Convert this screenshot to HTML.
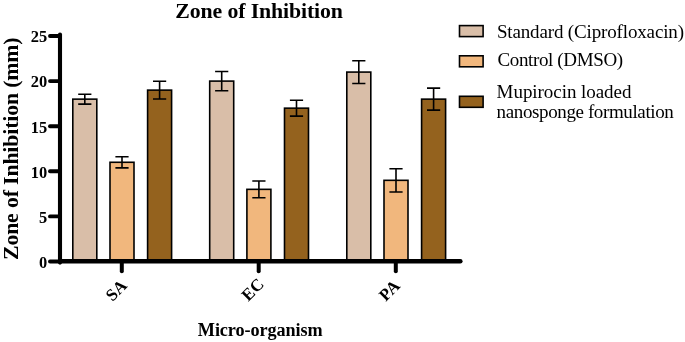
<!DOCTYPE html>
<html><head><meta charset="utf-8"><style>
html,body{margin:0;padding:0;background:#fff;}
svg{display:block;}
svg{will-change:transform;}
text{font-family:"Liberation Serif",serif;fill:#000;}
.tk{font-weight:bold;font-size:17.0px;}
.ytk{font-weight:bold;font-size:17.5px;}
.ttl{font-weight:bold;font-size:21.8px;}
.xl{font-weight:bold;font-size:18.2px;}
.lg{font-size:19.0px;}
</style></head><body>
<svg width="685" height="342" viewBox="0 0 685 342">
<rect width="685" height="342" fill="#fff"/>
<rect x="72.80" y="99.14" width="24.00" height="162.36" fill="#D9BEA8" stroke="#000" stroke-width="1.6"/>
<rect x="110.00" y="162.28" width="24.00" height="99.22" fill="#F1B77D" stroke="#000" stroke-width="1.6"/>
<rect x="147.60" y="90.12" width="24.00" height="171.38" fill="#94621E" stroke="#000" stroke-width="1.6"/>
<rect x="209.70" y="81.10" width="24.00" height="180.40" fill="#D9BEA8" stroke="#000" stroke-width="1.6"/>
<rect x="246.90" y="189.34" width="24.00" height="72.16" fill="#F1B77D" stroke="#000" stroke-width="1.6"/>
<rect x="284.50" y="108.16" width="24.00" height="153.34" fill="#94621E" stroke="#000" stroke-width="1.6"/>
<rect x="346.80" y="72.08" width="24.00" height="189.42" fill="#D9BEA8" stroke="#000" stroke-width="1.6"/>
<rect x="384.00" y="180.32" width="24.00" height="81.18" fill="#F1B77D" stroke="#000" stroke-width="1.6"/>
<rect x="421.60" y="99.14" width="24.00" height="162.36" fill="#94621E" stroke="#000" stroke-width="1.6"/>
<path d="M84.80 94.18V104.10M78.20 94.18H91.40M78.20 104.10H91.40" stroke="#000" stroke-width="1.6" fill="none"/>
<path d="M122.00 156.69V167.87M115.40 156.69H128.60M115.40 167.87H128.60" stroke="#000" stroke-width="1.6" fill="none"/>
<path d="M159.60 81.28V98.96M153.00 81.28H166.20M153.00 98.96H166.20" stroke="#000" stroke-width="1.6" fill="none"/>
<path d="M221.70 71.45V90.75M215.10 71.45H228.30M215.10 90.75H228.30" stroke="#000" stroke-width="1.6" fill="none"/>
<path d="M258.90 180.95V197.73M252.30 180.95H265.50M252.30 197.73H265.50" stroke="#000" stroke-width="1.6" fill="none"/>
<path d="M296.50 100.22V116.10M289.90 100.22H303.10M289.90 116.10H303.10" stroke="#000" stroke-width="1.6" fill="none"/>
<path d="M358.80 60.71V83.45M352.20 60.71H365.40M352.20 83.45H365.40" stroke="#000" stroke-width="1.6" fill="none"/>
<path d="M396.00 168.68V191.96M389.40 168.68H402.60M389.40 191.96H402.60" stroke="#000" stroke-width="1.6" fill="none"/>
<path d="M433.60 88.14V110.14M427.00 88.14H440.20M427.00 110.14H440.20" stroke="#000" stroke-width="1.6" fill="none"/>
<path d="M60.0 34.5V262.6" stroke="#000" stroke-width="4.1" stroke-linecap="round" fill="none"/>
<path d="M60.0 261.2H460.3" stroke="#000" stroke-width="4.6" stroke-linecap="round" fill="none"/>
<path d="M50 261.50H60.0" stroke="#000" stroke-width="3.9" stroke-linecap="round" fill="none"/>
<path d="M50 216.40H60.0" stroke="#000" stroke-width="3.9" stroke-linecap="round" fill="none"/>
<path d="M50 171.30H60.0" stroke="#000" stroke-width="3.9" stroke-linecap="round" fill="none"/>
<path d="M50 126.20H60.0" stroke="#000" stroke-width="3.9" stroke-linecap="round" fill="none"/>
<path d="M50 81.10H60.0" stroke="#000" stroke-width="3.9" stroke-linecap="round" fill="none"/>
<path d="M50 36.00H60.0" stroke="#000" stroke-width="3.9" stroke-linecap="round" fill="none"/>
<path d="M121.80 261.5V271.3" stroke="#000" stroke-width="4" stroke-linecap="round" fill="none"/>
<path d="M258.70 261.5V271.3" stroke="#000" stroke-width="4" stroke-linecap="round" fill="none"/>
<path d="M395.80 261.5V271.3" stroke="#000" stroke-width="4" stroke-linecap="round" fill="none"/>
<text x="47.30" y="267.80" text-anchor="end" textLength="8.22" lengthAdjust="spacingAndGlyphs" class="ytk">0</text>
<text x="47.30" y="222.70" text-anchor="end" textLength="8.22" lengthAdjust="spacingAndGlyphs" class="ytk">5</text>
<text x="47.30" y="177.60" text-anchor="end" textLength="16.45" lengthAdjust="spacingAndGlyphs" class="ytk">10</text>
<text x="47.30" y="132.50" text-anchor="end" textLength="16.45" lengthAdjust="spacingAndGlyphs" class="ytk">15</text>
<text x="47.30" y="87.40" text-anchor="end" textLength="16.45" lengthAdjust="spacingAndGlyphs" class="ytk">20</text>
<text x="47.30" y="42.30" text-anchor="end" textLength="16.45" lengthAdjust="spacingAndGlyphs" class="ytk">25</text>
<text x="112.60" y="301.88" transform="rotate(-45 112.60 301.88)" class="tk">SA</text>
<text x="248.16" y="301.88" transform="rotate(-45 248.16 301.88)" class="tk">EC</text>
<text x="385.78" y="301.88" transform="rotate(-45 385.78 301.88)" class="tk">PA</text>
<text x="175.30" y="17.50" textLength="167.59" lengthAdjust="spacing" class="ttl">Zone of Inhibition</text>
<text x="18.20" y="260.00" transform="rotate(-90 18.20 260.00)" textLength="222.60" lengthAdjust="spacing" class="ttl">Zone of Inhibition (mm)</text>
<text x="197.80" y="336.00" textLength="124.94" lengthAdjust="spacing" class="xl">Micro-organism</text>
<rect x="459.50" y="25.60" width="23.60" height="11.00" fill="#D9BEA8" stroke="#000" stroke-width="1.6"/>
<rect x="459.50" y="55.80" width="23.60" height="11.00" fill="#F1B77D" stroke="#000" stroke-width="1.6"/>
<rect x="459.50" y="96.30" width="23.60" height="11.00" fill="#94621E" stroke="#000" stroke-width="1.6"/>
<text x="496.90" y="37.60" textLength="187.08" lengthAdjust="spacing" class="lg">Standard (Ciprofloxacin)</text>
<text x="497.50" y="66.00" textLength="125.57" lengthAdjust="spacing" class="lg">Control (DMSO)</text>
<text x="496.60" y="98.10" textLength="134.81" lengthAdjust="spacing" class="lg">Mupirocin loaded</text>
<text x="496.60" y="118.10" textLength="177.22" lengthAdjust="spacing" class="lg">nanosponge formulation</text>
</svg>
</body></html>
